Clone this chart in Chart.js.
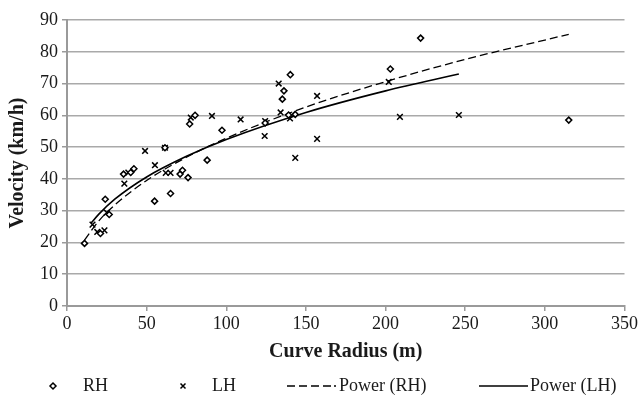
<!DOCTYPE html>
<html>
<head>
<meta charset="utf-8">
<script src="https://cdn.jsdelivr.net/npm/chart.js@4/dist/chart.umd.min.js"></script>
<style>
  html, body { margin: 0; padding: 0; background: #fff; }
  #wrap { width: 640px; height: 395px; }
</style>
</head>
<body>
<div id="wrap"><canvas id="chart" width="640" height="395"></canvas></div>
<script>
// ─── Data ────────────────────────────────────────────────────────────────────
const RH_RADIUS   = [11, 21, 24, 26.5, 35.5, 40, 42, 55, 61.5, 65, 71, 72.5, 76, 77, 80.4, 88, 97.3, 124.4, 135.2, 136.2, 139.1, 140.2, 143.3, 203, 222, 315];
const RH_VELOCITY = [19.7, 22.8, 33.6, 28.8, 41.5, 42, 43.2, 33, 49.8, 35.4, 41.5, 42.7, 40.4, 57.3, 60, 45.9, 55.3, 57.6, 65.1, 67.7, 60.1, 72.8, 60.3, 74.6, 84.3, 58.5];

const LH_RADIUS   = [16, 19, 23.5, 25, 36, 38.5, 49, 55.2, 61.5, 62, 65, 77.7, 91, 109, 124.1, 124.4, 132.9, 134.1, 140, 143.3, 157, 157, 202, 209, 246];
const LH_VELOCITY = [25.6, 23.3, 23.8, 29.4, 38.5, 42, 48.8, 44.3, 49.8, 41.9, 41.9, 59.3, 59.8, 58.7, 53.5, 58.2, 70, 60.9, 59, 46.6, 66.1, 52.6, 70.5, 59.5, 60.1];

// trend curves as traced on the picture
const POWER_RH_X = [11, 20, 30, 50, 75, 100, 150, 200, 250, 315];
const POWER_RH_Y = [20.7, 26.8, 31.8, 39.5, 46.8, 52.8, 62.6, 70.6, 77.6, 85.5];
const POWER_LH_X = [15, 20, 30, 50, 75, 100, 150, 200, 246];
const POWER_LH_Y = [26.0, 28.9, 33.6, 40.6, 47.1, 52.4, 60.9, 67.7, 73.0];

const X_TICKS = [0, 50, 100, 150, 200, 250, 300, 350];
const Y_TICKS = [0, 10, 20, 30, 40, 50, 60, 70, 80, 90];

const LEGEND_LABELS = ["RH", "LH", "Power (RH)", "Power (LH)"];

// ─── Style ───────────────────────────────────────────────────────────────────
const SERIF     = "'Liberation Serif', 'Times New Roman', serif";
const GRID_GRAY = "#a9a9a9";
const AXIS_GRAY = "#9a9a9a";
const INK       = "#1a1a1a";
const RH_DASH   = [8, 4];

Chart.defaults.font.family = SERIF;
Chart.defaults.color       = INK;

// ─── Helpers ─────────────────────────────────────────────────────────────────
function zipPoints(xs, ys) { return xs.map((x, i) => ({ x, y: ys[i] })); }

// ─── Legend drawn along the bottom edge ──────────────────────────────────────
const bottomLegend = {
    id: "bottomLegend",
    afterDraw(chart) {
        const c = chart.ctx;
        const y = 386;
        c.save();
        c.strokeStyle = "#000";
        c.fillStyle   = INK;
        c.font        = "18px " + SERIF;
        c.textBaseline = "middle";

        // RH diamond
        c.lineWidth = 1.5;
        c.beginPath();
        c.moveTo(53, y - 3); c.lineTo(56, y); c.lineTo(53, y + 3); c.lineTo(50, y);
        c.closePath();
        c.stroke();
        c.fillText(LEGEND_LABELS[0], 83, y);

        // LH cross
        c.beginPath();
        c.moveTo(180.5, y - 2.5); c.lineTo(185.5, y + 2.5);
        c.moveTo(185.5, y - 2.5); c.lineTo(180.5, y + 2.5);
        c.stroke();
        c.fillText(LEGEND_LABELS[1], 212, y);

        // Power (RH) dashed
        c.lineWidth = 1.3;
        c.setLineDash(RH_DASH);
        c.beginPath();
        c.moveTo(287, y); c.lineTo(331, y);
        c.stroke();
        c.setLineDash([]);
        c.beginPath();
        c.moveTo(334, y); c.lineTo(336, y);
        c.stroke();
        c.fillText(LEGEND_LABELS[2], 339, y);

        // Power (LH) solid
        c.lineWidth = 1.6;
        c.beginPath();
        c.moveTo(479, y); c.lineTo(528, y);
        c.stroke();
        c.fillText(LEGEND_LABELS[3], 530, y);
        c.restore();
    }
};

// ─── Chart ───────────────────────────────────────────────────────────────────
const ctx = document.getElementById("chart").getContext("2d");

new Chart(ctx, {
    type: "scatter",
    plugins: [bottomLegend],
    data: {
        datasets: [
            {
                label: "Power (RH)",
                data: zipPoints(POWER_RH_X, POWER_RH_Y),
                showLine: true,
                borderColor: "#000",
                borderWidth: 1.3,
                borderDash: RH_DASH,
                cubicInterpolationMode: "monotone",
                pointRadius: 0,
                order: 2,
            },
            {
                label: "Power (LH)",
                data: zipPoints(POWER_LH_X, POWER_LH_Y),
                showLine: true,
                borderColor: "#000",
                borderWidth: 1.6,
                cubicInterpolationMode: "monotone",
                pointRadius: 0,
                order: 2,
            },
            {
                label: "RH",
                data: zipPoints(RH_RADIUS, RH_VELOCITY),
                pointStyle: "rectRot",
                pointRadius: 3,
                borderColor: "#000",
                backgroundColor: "#fff",
                borderWidth: 1.5,
                order: 1,
            },
            {
                label: "LH",
                data: zipPoints(LH_RADIUS, LH_VELOCITY),
                pointStyle: "crossRot",
                pointRadius: 4,
                borderColor: "#000",
                borderWidth: 1.5,
                order: 1,
            }
        ]
    },
    options: {
        responsive: false,
        animation: false,
        devicePixelRatio: 1,
        layout: { padding: { left: 0, top: 20, right: 13, bottom: 0 } },
        scales: {
            x: {
                type: "linear",
                min: 0, max: 350,
                afterBuildTicks: s => { s.ticks = X_TICKS.map(v => ({ value: v })); },
                afterFit: s => { s.height = 89; },
                ticks: { font: { size: 18 }, color: INK, padding: 2, maxRotation: 0 },
                grid: { drawOnChartArea: false, tickLength: 5, color: AXIS_GRAY, lineWidth: 1.5 },
                border: { color: AXIS_GRAY, width: 2 },
                title: {
                    display: true,
                    text: "Curve Radius (m)",
                    font: { size: 20, weight: "bold" },
                    color: INK,
                    padding: { top: 0, bottom: 31 }
                }
            },
            y: {
                type: "linear",
                min: 0, max: 90,
                afterBuildTicks: s => { s.ticks = Y_TICKS.map(v => ({ value: v })); },
                afterFit: s => { s.width = 67; },
                ticks: { font: { size: 18 }, color: INK, padding: 4 },
                grid: { color: GRID_GRAY, lineWidth: 1.5, tickLength: 5, tickColor: AXIS_GRAY },
                border: { color: AXIS_GRAY, width: 2 },
                title: {
                    display: true,
                    text: "Velocity (km/h)",
                    font: { size: 20, weight: "bold" },
                    color: INK,
                    padding: { top: 6, bottom: 0 }
                }
            }
        },
        plugins: {
            legend: { display: false },
            tooltip: { enabled: false }
        }
    }
});
</script>
</body>
</html>
